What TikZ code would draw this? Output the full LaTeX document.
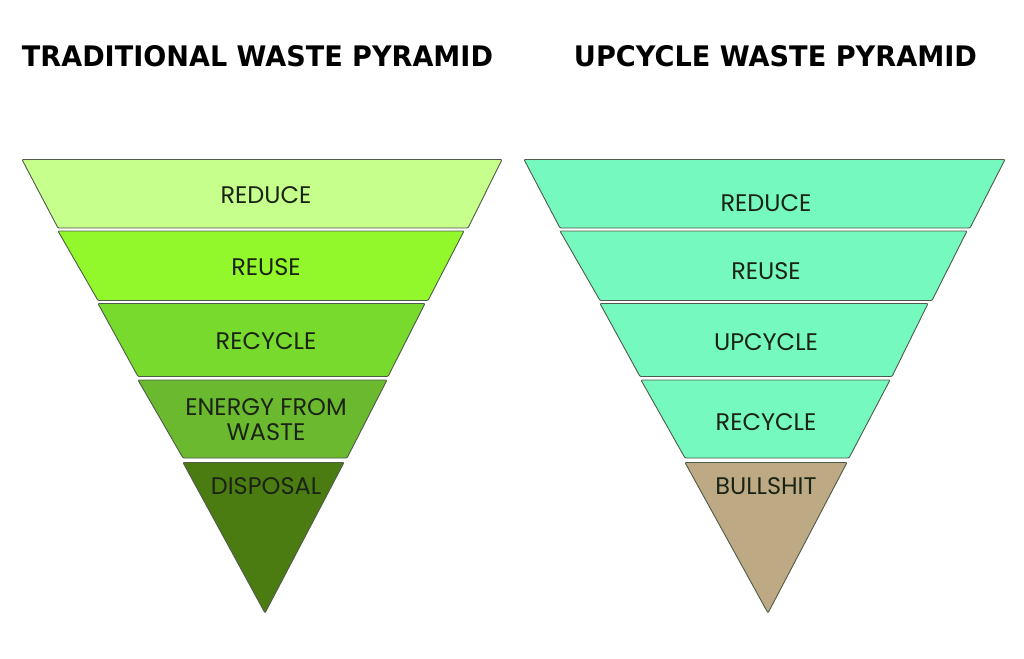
\documentclass[tikz,border=0pt]{standalone}
\usepackage{fontspec}
\usepackage{graphicx}
\setmainfont{Poppins}
\newfontfamily\titlefont{DejaVu Sans}
\definecolor{bandA}{HTML}{C6FF8C}
\definecolor{bandB}{HTML}{93F82B}
\definecolor{bandC}{HTML}{77DA2D}
\definecolor{bandD}{HTML}{6AB92F}
\definecolor{bandE}{HTML}{4A7C12}
\definecolor{teal}{HTML}{76F9BF}
\definecolor{tan}{HTML}{BDAA84}
\definecolor{edge}{HTML}{4F5A48}
\definecolor{ink}{HTML}{1B2414}
\tikzset{
  band/.style={draw=edge, line width=0.9pt, rounded corners=1pt, line join=round},
  lbl/.style={font=\fontsize{24}{25}\selectfont, text=ink, align=center, inner sep=0pt},
  ttl/.style={inner sep=0pt, text=black}
}
\begin{document}
\begin{tikzpicture}[x=1pt,y=-1pt]
\useasboundingbox (0,0) rectangle (1024,658);
% titles
\node[ttl] (t1) at (257.5,56.5) {\resizebox{471pt}{21pt}{\titlefont\bfseries TRADITIONAL WASTE PYRAMID}};
\node[ttl] (t2) at (775.5,56.5) {\resizebox{403pt}{21pt}{\titlefont\bfseries UPCYCLE WASTE PYRAMID}};
% left pyramid
\draw[band, fill=bandA] (22,159.5) -- (502,159.5) -- (468,228) -- (58,228) -- cycle;
\draw[band, fill=bandB] (58,231) -- (464,231) -- (428,300.5) -- (98,300.5) -- cycle;
\draw[band, fill=bandC] (98,303.5) -- (425,303.5) -- (388,376.5) -- (138,376.5) -- cycle;
\draw[band, fill=bandD] (138,380) -- (387,380) -- (347,458) -- (183,458) -- cycle;
\draw[band, fill=bandE] (183,462.5) -- (344,462.5) -- (265,613) -- cycle;
\node[lbl] (l1) at (266,195) {REDUCE};
\node[lbl] (l2) at (266,267) {REUSE};
\node[lbl] (l3) at (266,341) {RECYCLE};
\node[lbl] (l4) at (266,419.5) {ENERGY FROM\\WASTE};
\node[lbl] (l5) at (266,486) {DISPOSAL};
% right pyramid
\draw[band, fill=teal] (524,159.5) -- (1005,159.5) -- (970,228) -- (560,228) -- cycle;
\draw[band, fill=teal] (560,231) -- (967,231) -- (932,300.5) -- (600,300.5) -- cycle;
\draw[band, fill=teal] (600,303.5) -- (928,303.5) -- (892,376.5) -- (640,376.5) -- cycle;
\draw[band, fill=teal] (641,380) -- (890,380) -- (849,458) -- (685,458) -- cycle;
\draw[band, fill=tan] (685,462.5) -- (847,462.5) -- (768,613) -- cycle;
\node[lbl] (r1) at (766,203) {REDUCE};
\node[lbl] (r2) at (766,271) {REUSE};
\node[lbl] (r3) at (766,342) {UPCYCLE};
\node[lbl] (r4) at (766,422) {RECYCLE};
\node[lbl] (r5) at (766,486) {BULLSHIT};
\end{tikzpicture}
\end{document}
